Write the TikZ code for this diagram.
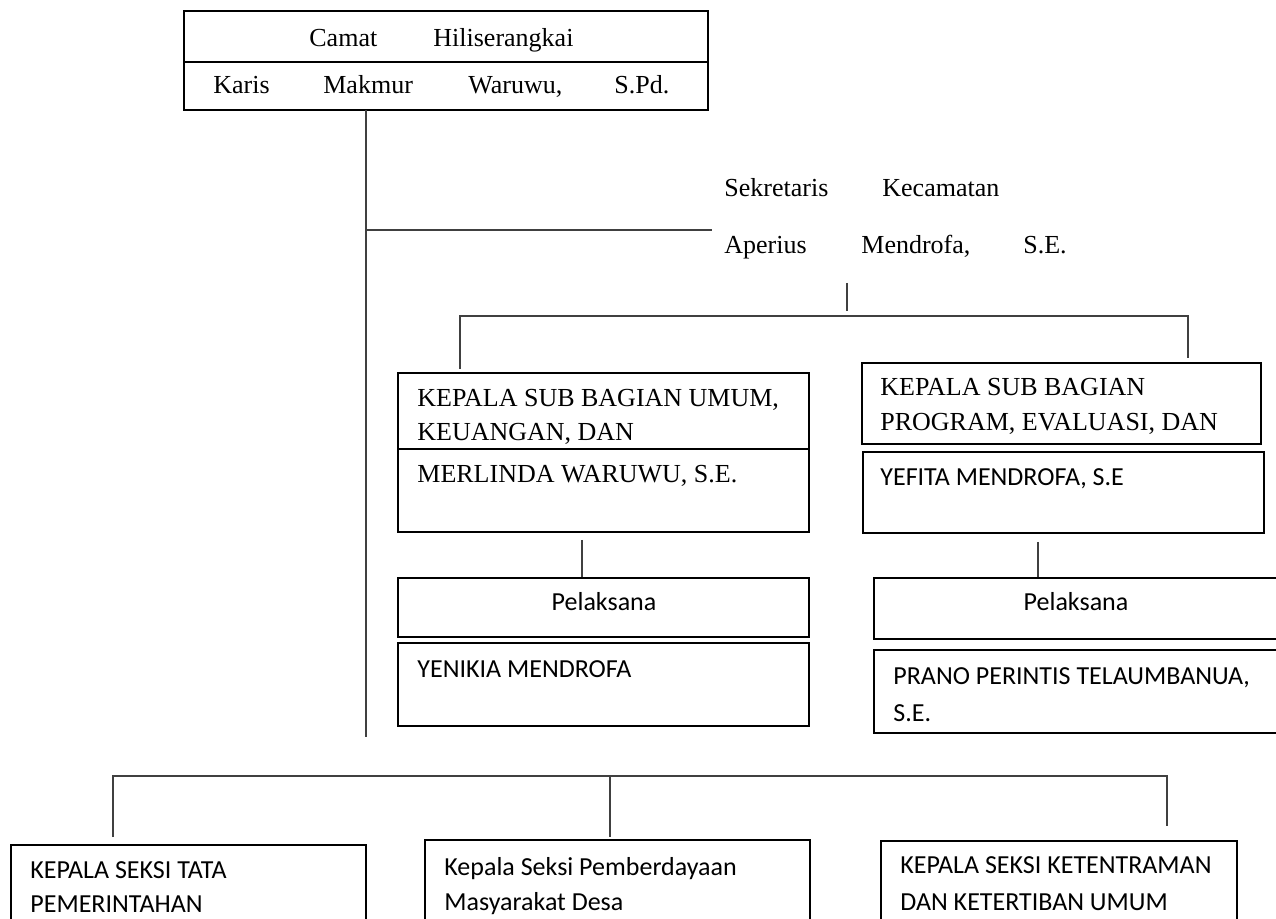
\documentclass[tikz,border=0pt]{standalone}
\usepackage{fontspec}
\setmainfont{Liberation Serif}
\newfontfamily\calfont{Carlito}
\usetikzlibrary{fit}
\begin{document}
\begin{tikzpicture}[x=0.5pt,y=-0.5pt,
  box/.style={draw=black, line width=0.6pt, inner sep=0pt},
  conn/.style={draw=black!75, line width=0.8pt},
  ser/.style={anchor=base west, inner sep=0pt, font=\fontsize{13}{15}\selectfont},
  san/.style={anchor=base west, inner sep=0pt, font=\calfont\fontsize{13}{15}\selectfont}]
\useasboundingbox (0,0) rectangle (1276,919);
\clip (0,0) rectangle (1276,919);

% ---------- boxes ----------
\node[box, fit={(184,11) (708,110)}] (camat) {};
\draw[box] (camat.west |- 0,62) -- (camat.east |- 0,62);

\node[box, fit={(398,373) (809,532)}] (subL) {};
\draw[box] (subL.west |- 0,449) -- (subL.east |- 0,449);
\node[box, fit={(862,363) (1261,444)}] (subRt) {};
\node[box, fit={(863,452) (1264,533)}] (subRb) {};

\node[box, fit={(398,578) (809,637)}] (pelL) {};
\node[box, fit={(398,643) (809,726)}] (namaL) {};
\node[box, fit={(874,578) (1278,639)}] (pelR) {};
\node[box, fit={(874,650) (1278,733)}] (namaR) {};

\node[box, fit={(11,845) (366,940)}] (seksi1) {};
\node[box, fit={(425,840) (810,940)}] (seksi2) {};
\node[box, fit={(881,841) (1237,940)}] (seksi3) {};

% ---------- texts ----------
\node[ser] (t1) at (309,47) {\makebox[62pt][l]{Camat}Hiliserangkai};
\node[ser] (t2) at (213,94) {\makebox[55pt][l]{Karis}\makebox[72.5pt][l]{Makmur}\makebox[73pt][l]{Waruwu,}S.Pd.};

\node[ser] (sek1) at (724,197) {\makebox[79pt][l]{Sekretaris}Kecamatan};
\node[ser] (sek2) at (724,254) {\makebox[68.5pt][l]{Aperius}\makebox[81pt][l]{Mendrofa,}S.E.};

\node[ser] (sl1) at (417,407) {KEPALA SUB BAGIAN UMUM,};
\node[ser] (sl2) at (417,441) {KEUANGAN, DAN};
\node[ser] (sl3) at (417,483) {MERLINDA WARUWU, S.E.};

\node[ser] (sr1) at (880,396) {KEPALA SUB BAGIAN};
\node[ser] (sr2) at (880,431) {PROGRAM, EVALUASI, DAN};
\node[san] (sr3) at (880,486) {YEFITA MENDROFA, S.E};

\node[san, anchor=base] (pl) at (604,611) {Pelaksana};
\node[san] (nl) at (417,678) {YENIKIA MENDROFA};
\node[san, anchor=base] (pr) at (1076,611) {Pelaksana};
\node[san] (nr1) at (893,685) {PRANO PERINTIS TELAUMBANUA,};
\node[san] (nr2) at (893,722) {S.E.};

\node[san] (k1a) at (30,878) {KEPALA SEKSI TATA};
\node[san] (k1b) at (30,913) {PEMERINTAHAN};
\node[san] (k2a) at (444,875) {Kepala Seksi Pemberdayaan};
\node[san] (k2b) at (444,910) {Masyarakat Desa};
\node[san] (k3a) at (900,873) {KEPALA SEKSI KETENTRAMAN};
\node[san] (k3b) at (900,910) {DAN KETERTIBAN UMUM};

% ---------- connectors ----------
\coordinate (trunkTop) at (366,110);
\coordinate (trunkEnd) at (366,737);
\coordinate (sekJoin) at (366,230);
\coordinate (sekEnd) at (712,230);
\draw[conn] (trunkTop) -- (trunkEnd);
\draw[conn] (sekJoin) -- (sekEnd);

\coordinate (sekDownA) at (847,283);
\coordinate (sekDownB) at (847,311);
\draw[conn] (sekDownA) -- (sekDownB);
\coordinate (brL) at (460,369);
\coordinate (brR) at (1188,358);
\draw[conn] (brL) -- (460,316) -- (1188,316) -- (brR);

\coordinate (vLa) at (582,540);
\draw[conn] (vLa) -- (vLa |- pelL.north);
\coordinate (vRa) at (1038,542);
\draw[conn] (vRa) -- (vRa |- pelR.north);

\coordinate (b1) at (113,837);
\coordinate (b3) at (1167,826);
\coordinate (b2) at (610,837);
\draw[conn] (b1) -- (113,776) -- (1167,776) -- (b3);
\draw[conn] (610,776) -- (b2);
\end{tikzpicture}
\end{document}
